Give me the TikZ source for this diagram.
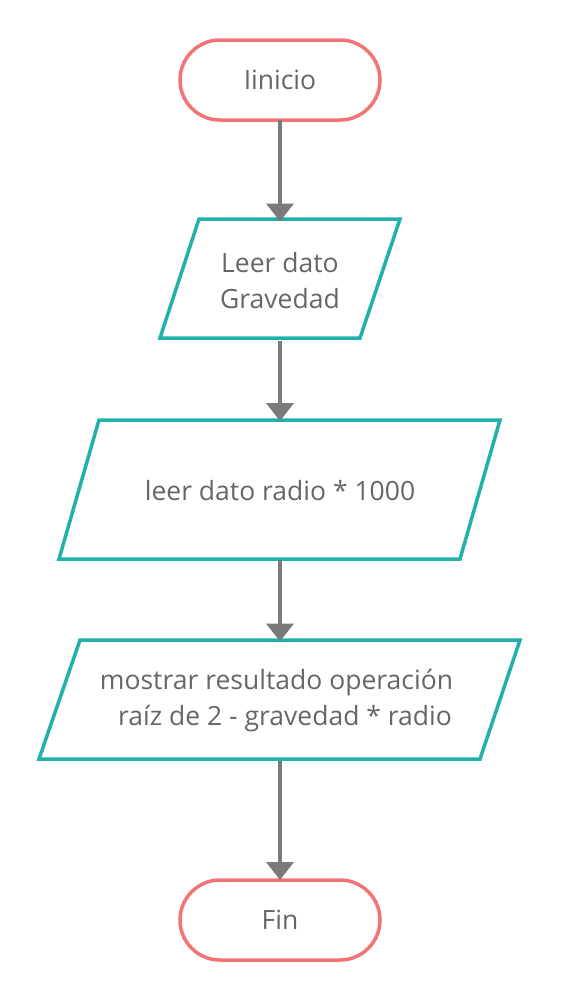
\documentclass[tikz,border=0pt]{standalone}
\usepackage{fontspec}
\setmainfont{Open Sans}
\usetikzlibrary{arrows.meta}
\definecolor{termred}{HTML}{F27474}
\definecolor{ioteal}{HTML}{22B0AA}
\definecolor{arrowgray}{HTML}{7A7A7A}
\definecolor{txtgray}{HTML}{666666}
\tikzset{
  term/.style={draw=termred, line width=3.5pt, rounded corners=40pt, minimum width=200pt, minimum height=80pt, fill=white, text=txtgray, font=\fontsize{26.5}{36}\selectfont, outer sep=0pt},
  iobox/.style={draw=none, outer sep=0pt, text=txtgray, font=\fontsize{26.5}{36}\selectfont, align=center},
  ioline/.style={draw=ioteal, line width=3.5pt, line join=miter},
  flow/.style={draw=arrowgray, line width=4pt, -{Triangle[width=27pt,length=18pt]}, shorten >=0pt}
}
\begin{document}
\begin{tikzpicture}[x=1pt,y=-1pt]
\useasboundingbox (0,0) rectangle (561,1001);
\node[term] (start) at (280,80) {Iinicio};
% parallelogram 1
\draw[ioline] (199,219) -- (400,219) -- (360,338) -- (160,338) -- cycle;
\node[iobox, minimum height=119pt, minimum width=200pt] (p1) at (280,281) {Leer dato\\Gravedad};
% parallelogram 2
\draw[ioline] (99,420) -- (500,420) -- (460,559) -- (59,559) -- cycle;
\node[iobox, minimum height=139pt, minimum width=300pt] (p2) at (280,490.5) {leer dato radio * 1000};
% parallelogram 3
\draw[ioline] (80,640) -- (520,640) -- (480,759) -- (39,759) -- cycle;
\node[iobox, minimum height=119pt, minimum width=380pt] (p3) at (280,701) {mostrar resultado operación\hspace*{7pt}\\\hspace*{10pt}raíz de 2 - gravedad * radio};
\node[term] (fin) at (280,920) {Fin};
\draw[flow] (start.south) -- (p1.north);
\draw[flow] (p1.south) -- (p2.north);
\draw[flow] (p2.south) -- (p3.north);
\draw[flow] (p3.south) -- (fin.north);
\end{tikzpicture}
\end{document}
